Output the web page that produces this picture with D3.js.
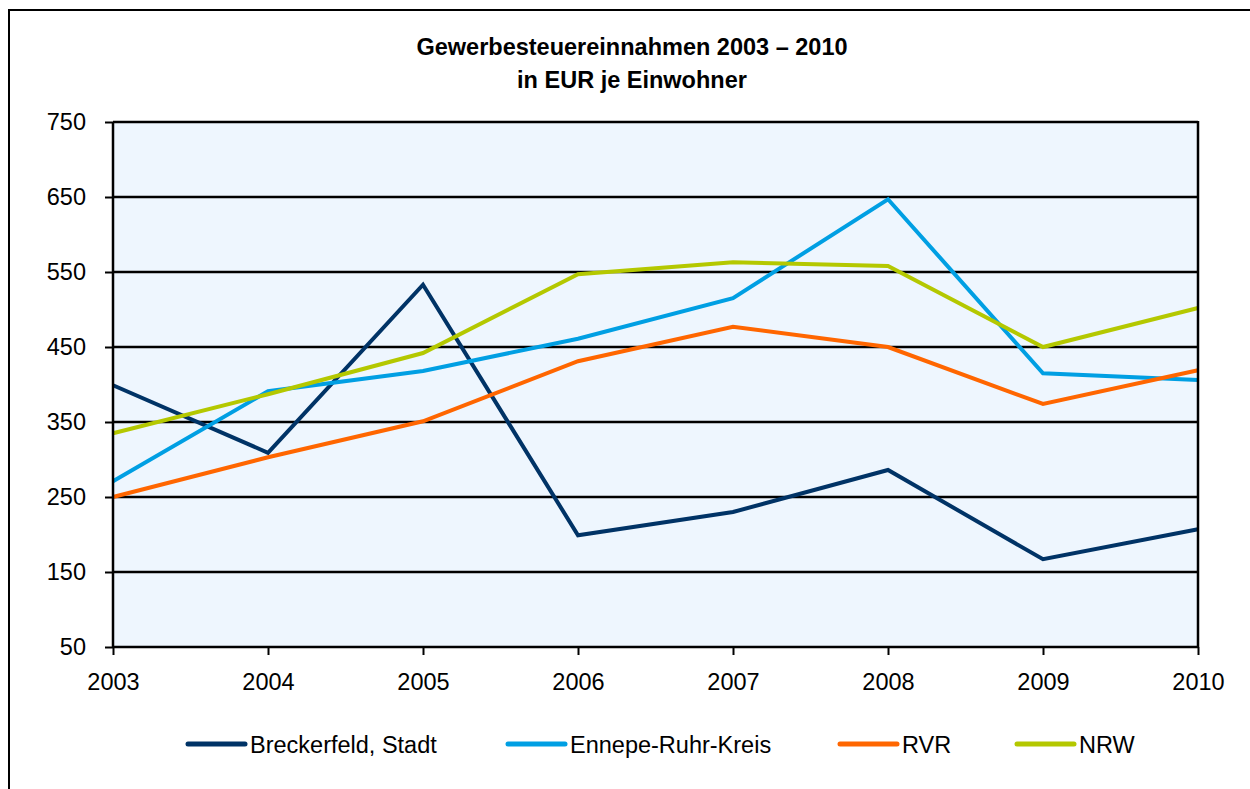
<!DOCTYPE html>
<html lang="de">
<head>
<meta charset="utf-8">
<style>
body { margin:0; background:#fff; }
text { font-family: "Liberation Sans", Arial, sans-serif; }
</style>
<script src="https://cdn.jsdelivr.net/npm/d3@7/dist/d3.min.js"></script>
</head>
<body>
<div id="chart"></div>
<script>

var years = [2003, 2004, 2005, 2006, 2007, 2008, 2009, 2010]
var yTicks = [50, 150, 250, 350, 450, 550, 650, 750]

var breckerfeld = [399, 309, 533, 199, 230, 286, 167, 207]
var ennepe = [271, 391, 418, 461, 515, 647, 415, 406]
var rvr = [250, 303, 351, 431, 477, 450, 374, 419]
var nrw = [335, 387, 442, 547, 563, 558, 450, 502]

var seriesNames = ["Breckerfeld, Stadt", "Ennepe-Ruhr-Kreis", "RVR", "NRW"]
var seriesColors = ["#003366", "#009fe3", "#ff6600", "#b4c800"]

var series = [breckerfeld, ennepe, rvr, nrw].map(function(vals, i) {
    return { name: seriesNames[i], color: seriesColors[i], values: vals }
})

var width = 1250
var height = 789
var plotLeft = 113, plotRight = 1198, plotTop = 122, plotBottom = 647
var fontSize = 23.5

var svg = d3.select('#chart').append("svg")
    .attr("width", width)
    .attr("height", height)

// outer frame
svg.append("rect")
    .attr("x", 9).attr("y", 10)
    .attr("width", 1260).attr("height", 800)
    .attr("fill", "#fff")
    .attr("stroke", "#000")
    .attr("stroke-width", 2)

var x = d3.scalePoint()
    .domain(years)
    .range([plotLeft, plotRight])

var y = d3.scaleLinear()
    .domain([50, 750])
    .range([plotBottom, plotTop])

// plot background
svg.append("rect")
    .attr("x", plotLeft).attr("y", plotTop)
    .attr("width", plotRight - plotLeft).attr("height", plotBottom - plotTop)
    .attr("fill", "#eef6fe")

// gridlines
svg.append("g")
    .selectAll("line")
    .data(yTicks.slice(1))
    .enter().append("line")
    .attr("x1", plotLeft).attr("x2", plotRight)
    .attr("y1", function(d) { return y(d) }).attr("y2", function(d) { return y(d) })
    .attr("stroke", "#000")
    .attr("stroke-width", 2.5)

// lines
var line = d3.line()
    .x(function(d, i) { return x(years[i]) })
    .y(function(d) { return y(d) })

svg.append("g")
    .selectAll("path")
    .data(series)
    .enter().append("path")
    .attr("d", function(d) { return line(d.values) })
    .attr("fill", "none")
    .attr("stroke", function(d) { return d.color })
    .attr("stroke-width", 4)
    .attr("stroke-linejoin", "miter")

// plot border left / right
svg.append("line").attr("x1", plotLeft).attr("x2", plotLeft).attr("y1", plotTop).attr("y2", plotBottom)
    .attr("stroke", "#000").attr("stroke-width", 2.5)
svg.append("line").attr("x1", plotRight).attr("x2", plotRight).attr("y1", plotTop - 1).attr("y2", plotBottom)
    .attr("stroke", "#000").attr("stroke-width", 2.5)

// y axis
var yAxis = svg.append("g")
    .attr("transform", "translate(" + plotLeft + ",0)")
    .call(d3.axisLeft(y).tickValues(yTicks).tickSize(8).tickPadding(19))
yAxis.select(".domain").remove()
yAxis.selectAll("line").attr("stroke", "#000").attr("stroke-width", 2)
yAxis.selectAll("text").attr("font-size", fontSize).attr("fill", "#000")
    .style("font-family", '"Liberation Sans", Arial, sans-serif')

// x axis
var xAxis = svg.append("g")
    .attr("transform", "translate(0," + plotBottom + ")")
    .call(d3.axisBottom(x).tickSize(8).tickPadding(18))
xAxis.select(".domain").attr("d", "M" + plotLeft + ",0H" + plotRight).attr("stroke", "#000").attr("stroke-width", 2.5)
xAxis.selectAll("line").attr("stroke", "#000").attr("stroke-width", 2)
xAxis.selectAll("text").attr("font-size", fontSize).attr("fill", "#000")
    .style("font-family", '"Liberation Sans", Arial, sans-serif')

// title
var title = svg.append("text")
    .attr("text-anchor", "middle")
    .attr("font-size", fontSize)
    .attr("font-weight", "bold")
title.append("tspan").attr("x", 632).attr("y", 55).text("Gewerbesteuereinnahmen 2003 – 2010")
title.append("tspan").attr("x", 632).attr("y", 88).text("in EUR je Einwohner")

// legend
var legendX = [188, 508, 840, 1017]
var legend = svg.append("g")
    .selectAll("g")
    .data(series)
    .enter().append("g")
    .attr("transform", function(d, i) { return "translate(" + legendX[i] + ",744)" })

legend.append("line")
    .attr("x1", 0).attr("x2", 57)
    .attr("stroke", function(d) { return d.color })
    .attr("stroke-width", 5)
    .attr("stroke-linecap", "round")

legend.append("text")
    .attr("x", 62).attr("y", 8.5)
    .attr("font-size", fontSize)
    .text(function(d) { return d.name })

</script>
</body>
</html>
